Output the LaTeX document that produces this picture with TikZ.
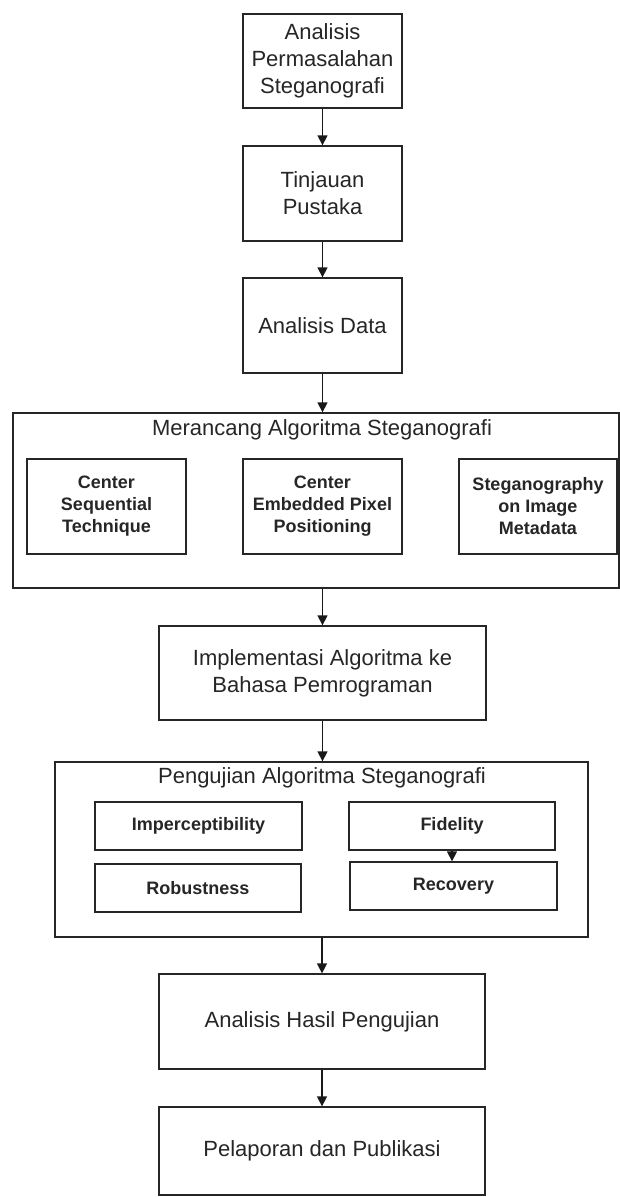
\documentclass[tikz,border=0pt]{standalone}
\usepackage{fontspec}
\setmainfont{Liberation Sans}
\usetikzlibrary{arrows.meta}
\begin{document}
\begin{tikzpicture}[x=1pt,y=-1pt,
  box/.style={draw=black!85, line width=1.3pt, fill=white, inner sep=0pt,
    align=center, text=black!85, font=\fontsize{22}{27}\selectfont},
  subbox/.style={box, font=\fontsize{18}{22}\selectfont\bfseries},
  frame/.style={draw=black!85, line width=1.3pt, inner sep=0pt},
  grouptitle/.style={inner sep=0pt, text=black!85, font=\fontsize{22}{27}\selectfont},
  flow/.style={draw=black!90, line width=1.3pt, -{Triangle[width=10pt,length=10pt]}}
]
\useasboundingbox (0,0) rectangle (620,1197);

% main steps
\node[box, minimum width=159pt, minimum height=94pt] (problem) at (322.5,61)
  {Analisis\\Permasalahan\\Steganografi};
\node[box, minimum width=159pt, minimum height=95pt] (review) at (322.5,193.5)
  {Tinjauan\\Pustaka};
\node[box, minimum width=159pt, minimum height=95pt] (data) at (322.5,325.5)
  {Analisis Data};

% design group
\node[frame, minimum width=606pt, minimum height=175pt] (design) at (316,500.5) {};
\node[grouptitle] (designtitle) at (322,430) {Merancang Algoritma Steganografi};
\node[subbox, minimum width=159pt, minimum height=95pt] (cst) at (106.5,506.5)
  {Center\\Sequential\\Technique};
\node[subbox, minimum width=159pt, minimum height=95pt] (cepp) at (322.5,506.5)
  {Center\\Embedded Pixel\\Positioning};
\node[subbox, minimum width=158pt, minimum height=95pt] (meta) at (538,506.5)
  {Steganography\\on Image\\Metadata};

\node[box, minimum width=327pt, minimum height=94pt] (impl) at (322.5,673)
  {Implementasi Algoritma ke\\Bahasa Pemrograman};

% testing group
\node[frame, minimum width=533pt, minimum height=175pt] (testing) at (321.5,849.5) {};
\node[grouptitle] (testingtitle) at (322,778) {Pengujian Algoritma Steganografi};
\node[subbox, minimum width=207pt, minimum height=48pt] (imperc) at (198.5,826)
  {Imperceptibility};
\node[subbox, minimum width=206pt, minimum height=48pt] (robust) at (198,888)
  {Robustness};
\node[subbox, minimum width=206pt, minimum height=48pt] (fidelity) at (452,826)
  {Fidelity};
\node[subbox, minimum width=207pt, minimum height=48pt] (recovery) at (453.5,886)
  {Recovery};

\node[box, minimum width=326pt, minimum height=95pt] (results) at (322,1021.5)
  {Analisis Hasil Pengujian};
\node[box, minimum width=326pt, minimum height=88pt] (report) at (322,1151)
  {Pelaporan dan Publikasi};

% connectors
\draw[flow] (problem.south) -- (review.north);
\draw[flow] (review.south) -- (data.north);
\draw[flow] (data.south) -- (data.south |- design.north);
\draw[flow] (design.south -| impl.north) -- (impl.north);
\draw[flow] (impl.south) -- (impl.south |- testing.north);
\draw[flow] (fidelity.south) -- (fidelity.south |- recovery.north);
\draw[flow] (testing.south -| results.north) -- (results.north);
\draw[flow] (results.south) -- (report.north);
\end{tikzpicture}
\end{document}
